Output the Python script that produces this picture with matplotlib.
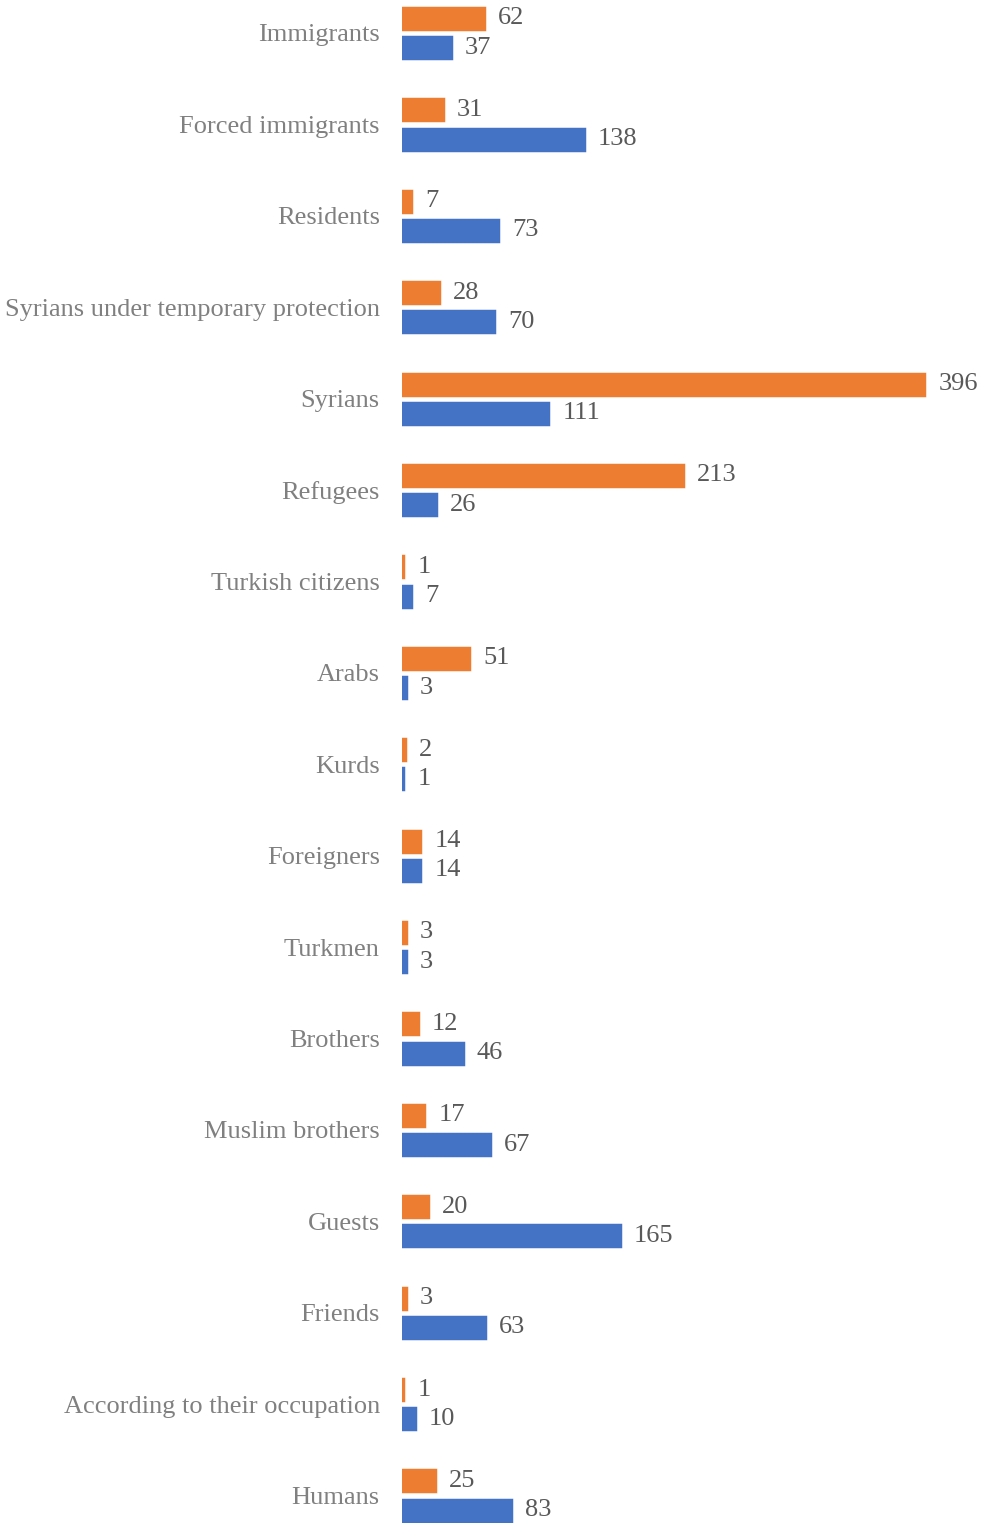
import matplotlib.pyplot as plt

categories = ["Immigrants", "Forced immigrants", "Residents",
              "Syrians under temporary protection", "Syrians", "Refugees",
              "Turkish citizens", "Arabs", "Kurds", "Foreigners", "Turkmen",
              "Brothers", "Muslim brothers", "Guests", "Friends",
              "According to their occupation", "Humans"]
orange_vals = [62, 31, 7, 28, 396, 213, 1, 51, 2, 14, 3, 12, 17, 20, 3, 1, 25]
blue_vals = [37, 138, 73, 70, 111, 26, 7, 3, 1, 14, 3, 46, 67, 165, 63, 10, 83]

ORANGE = "#ED7D31"
BLUE = "#4472C4"

plt.rcParams['font.family'] = ['Liberation Serif', 'DejaVu Serif']

fig = plt.figure(figsize=(9.86, 15.23), dpi=100)
ax = fig.add_axes([402 / 986, 0, 529 / 986, 1])

ys = list(range(len(categories)))
off = 0.16
h = 0.23
ax.barh([y - off for y in ys], orange_vals, height=h, color=ORANGE,
        edgecolor=ORANGE, linewidth=2.5)
ax.barh([y + off for y in ys], blue_vals, height=h, color=BLUE,
        edgecolor=BLUE, linewidth=2.5)

# value labels
for vals, sign in ((orange_vals, -1), (blue_vals, 1)):
    for y, v in zip(ys, vals):
        ax.annotate(str(v), (v, y + sign * off), xytext=(10, 0),
                    textcoords="offset points", va="center", ha="left",
                    fontsize=19, color="#595959", annotation_clip=False)

ax.set_xlim(0, 401)
ax.set_ylim(16.30, -0.361)
ax.set_yticks(ys)
ax.set_yticklabels(categories, fontsize=19, color="#808080")
ax.tick_params(axis="y", length=0, pad=16)
ax.set_xticks([])
for s in ax.spines.values():
    s.set_visible(False)

fig.savefig("out.png", dpi=100)
